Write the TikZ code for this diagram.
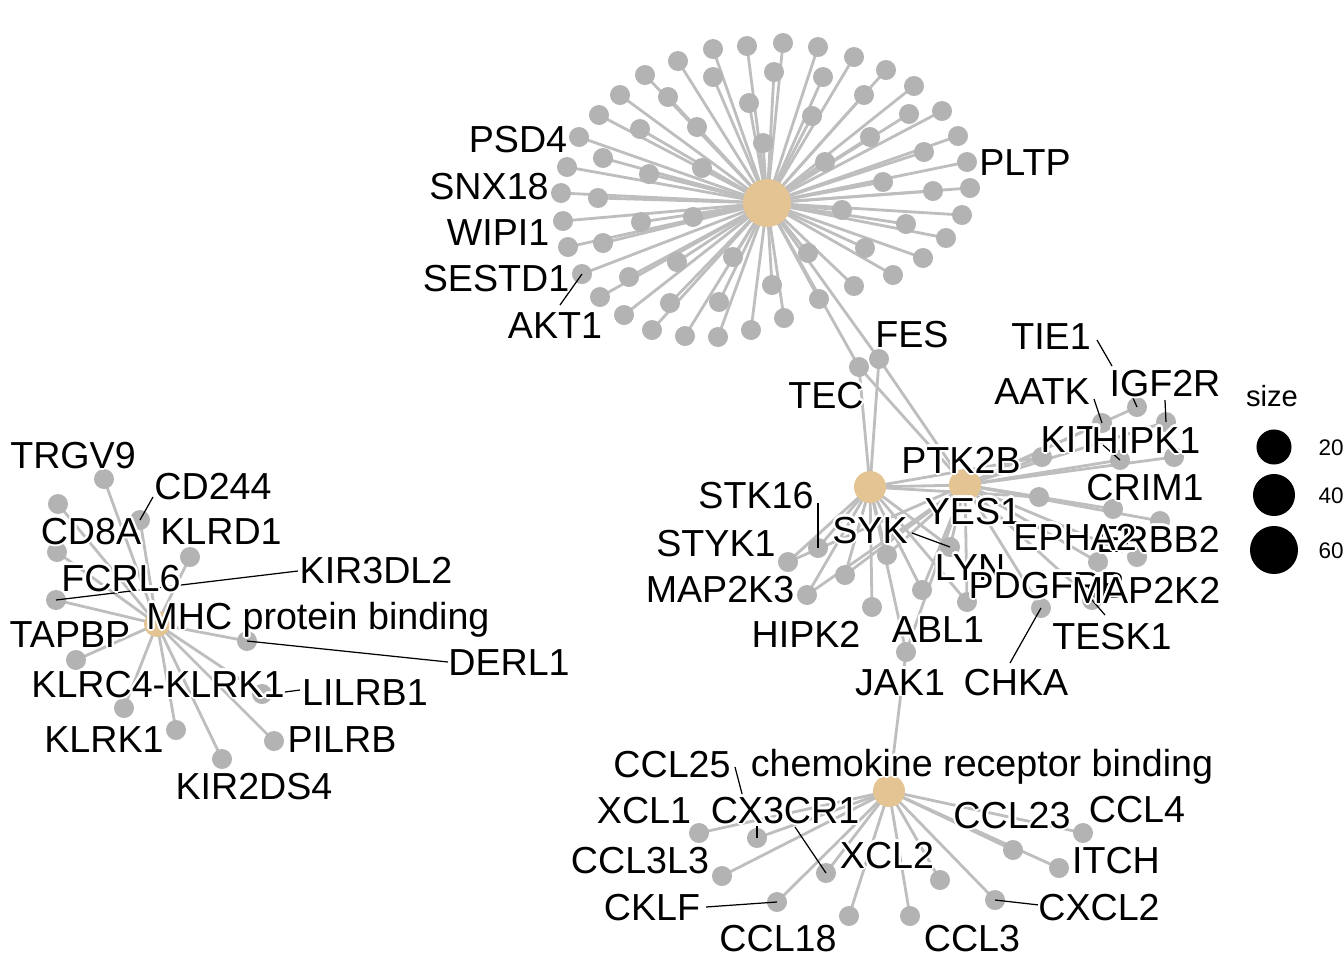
\documentclass[tikz,border=0pt]{standalone}
\usepackage{fontspec}
\setmainfont{Liberation Sans}
\usepackage[copies]{contour}
\contourlength{0.6pt}
\contournumber{16}
\definecolor{leafgray}{HTML}{B3B3B3}
\definecolor{edgegray}{HTML}{BEBEBE}
\definecolor{hubtan}{HTML}{E5C494}
\pgfdeclarelayer{edges}
\pgfsetlayers{edges,main}
\tikzset{
  leafnode/.style={circle,fill=leafgray,inner sep=0pt,minimum size=0.2cm},
  hubnode/.style={circle,fill=hubtan,inner sep=0pt,minimum size=#1},
  edgeline/.style={draw=edgegray,line width=0.8pt},
  leaderline/.style={draw=black,line width=0.35pt},
  lbl/.style={anchor=base,inner sep=0pt,font=\fontsize{10.7}{12}\selectfont},
  legdot/.style={circle,fill=black,inner sep=0pt,minimum size=#1},
  legtext/.style={anchor=base west,inner sep=0pt,font=\fontsize{6.4}{8}\selectfont},
}
\begin{document}
\begin{tikzpicture}[x=0.01cm,y=-0.01cm]
\useasboundingbox (0,0) rectangle (1344,960);
% hubs
\node[hubnode=0.48cm] (hTop) at (767,203) {};
\node[hubnode=0.32cm] (hSYK) at (870,487) {};
\node[hubnode=0.32cm] (hPTK) at (965,485) {};
\node[hubnode=0.26cm] (hMHC) at (157,624) {};
\node[hubnode=0.32cm] (hChem) at (889,791) {};
% top cluster leaves
\foreach \x/\y [count=\i] in {713/49,747/46,783/43,818/47,854/57,886/70,914/86,942/111,958/136,967/162,
  970/188,962/215,946/238,923/258,893/275,854/286,819/299,784/318,751/330,718/337,
  685/336,652/330,624/315,600/297,582/274,568/247,563/221,561/193,567/167,579/137,
  599/115,620/95,645/75,678/61,
  713/77,774/72,823/77,668/97,749/103,697/127,640/129,812/116,864/95,909/114,
  870/137,763/143,924/152,603/158,649/174,702/168,825/162,883/182,933/191,598/198,
  842/210,906/224,693/217,641/222,603/243,865/248,733/257,808/253,677/262,629/277,
  719/302,670/303,772/285}
  {\node[leafnode] (t\i) at (\x,\y) {};}
% middle cluster leaves
\node[leafnode] (TEC) at (859,367) {};
\node[leafnode] (FES) at (879,359) {};
\node[leafnode] (mA) at (1042,457) {};
\node[leafnode] (mB) at (1102,423) {};
\node[leafnode] (mC) at (1137,407) {};
\node[leafnode] (mD) at (1166,422) {};
\node[leafnode] (mE) at (1120,460) {};
\node[leafnode] (mF) at (1174,457) {};
\node[leafnode] (mG) at (1039,497) {};
\node[leafnode] (mH) at (1113,509) {};
\node[leafnode] (mI) at (1160,521) {};
\node[leafnode] (mJ) at (1098,562) {};
\node[leafnode] (mK) at (1137,557) {};
\node[leafnode] (mL) at (1092,600) {};
\node[leafnode] (mM) at (1041,608) {};
\node[leafnode] (pA) at (788,562) {};
\node[leafnode] (pB) at (818,548) {};
\node[leafnode] (pC) at (887,555) {};
\node[leafnode] (pD) at (845,575) {};
\node[leafnode] (pE) at (807,595) {};
\node[leafnode] (pF) at (872,607) {};
\node[leafnode] (pG) at (922,590) {};
\node[leafnode] (pH) at (967,602) {};
\node[leafnode] (pI) at (950,547) {};
\node[leafnode] (JAK) at (906,652) {};
% MHC leaves
\foreach \x/\y [count=\i] in {104/479,58/504,140/520,57/552,190/557,56/600,247/641,76/660,124/708,176/730,222/759,274/741,262/694}
  {\node[leafnode] (q\i) at (\x,\y) {};}
% chemokine leaves
\foreach \x/\y [count=\i] in {699/833,757/838,722/876,826/873,777/902,849/916,910/916,940/880,995/900,1013/850,1059/868,1083/833}
  {\node[leafnode] (c\i) at (\x,\y) {};}
% edges
\begin{pgfonlayer}{edges}
\foreach \i in {1,...,67} {\draw[edgeline] (hTop.center) -- (t\i.center);}
\draw[edgeline] (hTop.center) -- (TEC.center);
\draw[edgeline] (hTop.center) -- (FES.center);
\foreach \n in {TEC,FES,pA,pB,pC,pD,pE,pF,pG,pH,pI,JAK,mA,mG,hPTK}
  {\draw[edgeline] (hSYK.center) -- (\n.center);}
\foreach \n in {TEC,FES,mA,mB,mC,mD,mE,mF,mG,mH,mI,mJ,mK,mL,mM,pA,pC,pD,pE,pG,pH,pI,JAK}
  {\draw[edgeline] (hPTK.center) -- (\n.center);}
\draw[edgeline] (JAK.center) -- (hChem.center);
\foreach \i in {1,...,13} {\draw[edgeline] (hMHC.center) -- (q\i.center);}
\foreach \i in {1,...,12} {\draw[edgeline] (hChem.center) -- (c\i.center);}
\end{pgfonlayer}
% leader lines
\coordinate (kAKT) at (560,305);
\coordinate (kTIE) at (1097,340);
\coordinate (eTIE) at (1112,366);
\coordinate (kIGF) at (1133,398);
\coordinate (kHIP) at (1165,400);
\coordinate (kAAT) at (1094,399);
\coordinate (kKIT) at (1103,445);
\coordinate (kSTK) at (818,503);
\coordinate (kSYK) at (912,533);
\coordinate (kTES) at (1105,615);
\coordinate (kCHK) at (1010,663);
\coordinate (kCD2) at (153,497);
\coordinate (kKIR) at (298,571);
\coordinate (kDER) at (448,662);
\coordinate (kLIL) at (300,690);
\coordinate (eLIL) at (285,692);
\coordinate (kC25) at (735,767);
\coordinate (eC25) at (745,805);
\coordinate (kCX3) at (757,826);
\coordinate (kXC2) at (795,827);
\coordinate (kCKL) at (706,907);
\coordinate (kCXC) at (1039,905);
\draw[leaderline] (kAKT) -- (t25.center);
\draw[leaderline] (kTIE) -- (eTIE);
\draw[leaderline] (kIGF) -- (mC.center);
\draw[leaderline] (kHIP) -- (mD.center);
\draw[leaderline] (kAAT) -- (mB.center);
\draw[leaderline] (kKIT) -- (mE.center);
\draw[leaderline] (kSTK) -- (pB.center);
\draw[leaderline] (kSYK) -- (pI.center);
\draw[leaderline] (kTES) -- (mL.center);
\draw[leaderline] (kCHK) -- (mM.center);
\draw[leaderline] (kCD2) -- (q3.center);
\draw[leaderline] (kKIR) -- (q6.center);
\draw[leaderline] (kDER) -- (q7.center);
\draw[leaderline] (kLIL) -- (eLIL);
\draw[leaderline] (kC25) -- (eC25);
\draw[leaderline] (kCX3) -- (c2.center);
\draw[leaderline] (kXC2) -- (c4.center);
\draw[leaderline] (kCKL) -- (c5.center);
\draw[leaderline] (kCXC) -- (c9.center);
% labels top
\node[lbl] (LPSD4) at (518,152) {\contour{white}{PSD4}};
\node[lbl] (LSNX18) at (489,199) {\contour{white}{SNX18}};
\node[lbl] (LWIPI1) at (498,245) {\contour{white}{WIPI1}};
\node[lbl] (LSESTD1) at (496,291) {\contour{white}{SESTD1}};
\node[lbl] (LAKT1) at (555,338) {\contour{white}{AKT1}};
\node[lbl] (LPLTP) at (1025,175) {\contour{white}{PLTP}};
% labels middle
\node[lbl] (LFES) at (912,347) {\contour{white}{FES}};
\node[lbl] (LTEC) at (826,408) {\contour{white}{TEC}};
\node[lbl] (LTIE1) at (1051,349) {\contour{white}{TIE1}};
\node[lbl] (LIGF2R) at (1165,396) {\contour{white}{IGF2R}};
\node[lbl] (LAATK) at (1042,404) {\contour{white}{AATK}};
\node[lbl] (LKIT) at (1070,452) {\contour{white}{KIT}};
\node[lbl] (LHIPK1) at (1146,453) {\contour{white}{HIPK1}};
\node[lbl] (LPTK2B) at (961,473) {\contour{white}{PTK2B}};
\node[lbl] (LCRIM1) at (1145,500) {\contour{white}{CRIM1}};
\node[lbl] (LSTK16) at (756,508) {\contour{white}{STK16}};
\node[lbl] (LYES1) at (973,524) {\contour{white}{YES1}};
\node[lbl] (LSYK) at (870,543) {\contour{white}{SYK}};
\node[lbl] (LSTYK1) at (716,556) {\contour{white}{STYK1}};
\node[lbl] (LERBB2) at (1158,552) {\contour{white}{ERBB2}};
\node[lbl] (LEPHA2) at (1075,550) {\contour{white}{EPHA2}};
\node[lbl] (LMAP2K3) at (720,602) {\contour{white}{MAP2K3}};
\node[lbl] (LLYN) at (970,580) {\contour{white}{LYN}};
\node[lbl] (LPDGFRB) at (1047,598) {\contour{white}{PDGFRB}};
\node[lbl] (LMAP2K2) at (1146,603) {\contour{white}{MAP2K2}};
\node[lbl] (LHIPK2) at (806,647) {\contour{white}{HIPK2}};
\node[lbl] (LABL1) at (938,642) {\contour{white}{ABL1}};
\node[lbl] (LTESK1) at (1112,649) {\contour{white}{TESK1}};
\node[lbl] (LJAK1) at (900,695) {\contour{white}{JAK1}};
\node[lbl] (LCHKA) at (1016,695) {\contour{white}{CHKA}};
% labels MHC
\node[lbl] (LTRGV9) at (73,468) {\contour{white}{TRGV9}};
\node[lbl] (LCD244) at (213,499) {\contour{white}{CD244}};
\node[lbl] (LCD8A) at (91,544) {\contour{white}{CD8A}};
\node[lbl] (LKLRD1) at (221,544) {\contour{white}{KLRD1}};
\node[lbl] (LFCRL6) at (121,591) {\contour{white}{FCRL6}};
\node[lbl] (LKIR3DL2) at (376,583) {\contour{white}{KIR3DL2}};
\node[lbl] (LMHC) at (318,629) {\contour{white}{MHC protein binding}};
\node[lbl] (LTAPBP) at (70,647) {\contour{white}{TAPBP}};
\node[lbl] (LDERL1) at (509,675) {\contour{white}{DERL1}};
\node[lbl] (LKLRC4) at (158,697) {\contour{white}{KLRC4-KLRK1}};
\node[lbl] (LLILRB1) at (365,705) {\contour{white}{LILRB1}};
\node[lbl] (LKLRK1) at (104,752) {\contour{white}{KLRK1}};
\node[lbl] (LPILRB) at (342,752) {\contour{white}{PILRB}};
\node[lbl] (LKIR2DS4) at (254,799) {\contour{white}{KIR2DS4}};
% labels chemokine
\node[lbl] (LCCL25) at (672,777) {\contour{white}{CCL25}};
\node[lbl] (LCHEM) at (982,776) {\contour{white}{chemokine receptor binding}};
\node[lbl] (LXCL1) at (644,823) {\contour{white}{XCL1}};
\node[lbl] (LCX3CR1) at (785,823) {\contour{white}{CX3CR1}};
\node[lbl] (LCCL23) at (1012,828) {\contour{white}{CCL23}};
\node[lbl] (LCCL4) at (1137,822) {\contour{white}{CCL4}};
\node[lbl] (LCCL3L3) at (640,873) {\contour{white}{CCL3L3}};
\node[lbl] (LXCL2) at (887,868) {\contour{white}{XCL2}};
\node[lbl] (LITCH) at (1116,873) {\contour{white}{ITCH}};
\node[lbl] (LCKLF) at (652,920) {\contour{white}{CKLF}};
\node[lbl] (LCXCL2) at (1099,920) {\contour{white}{CXCL2}};
\node[lbl] (LCCL18) at (778,951) {\contour{white}{CCL18}};
\node[lbl] (LCCL3) at (972,951) {\contour{white}{CCL3}};
% legend
\node[anchor=base,inner sep=0pt,font=\fontsize{8.3}{10}\selectfont] (legtitle) at (1272,406) {size};
\node[legdot=0.35cm] (lg20) at (1274,447) {};
\node[legdot=0.42cm] (lg40) at (1274,495) {};
\node[legdot=0.48cm] (lg60) at (1274,550) {};
\node[legtext] (lt20) at (1318,455) {20};
\node[legtext] (lt40) at (1318,503) {40};
\node[legtext] (lt60) at (1318,558) {60};
\end{tikzpicture}
\end{document}
